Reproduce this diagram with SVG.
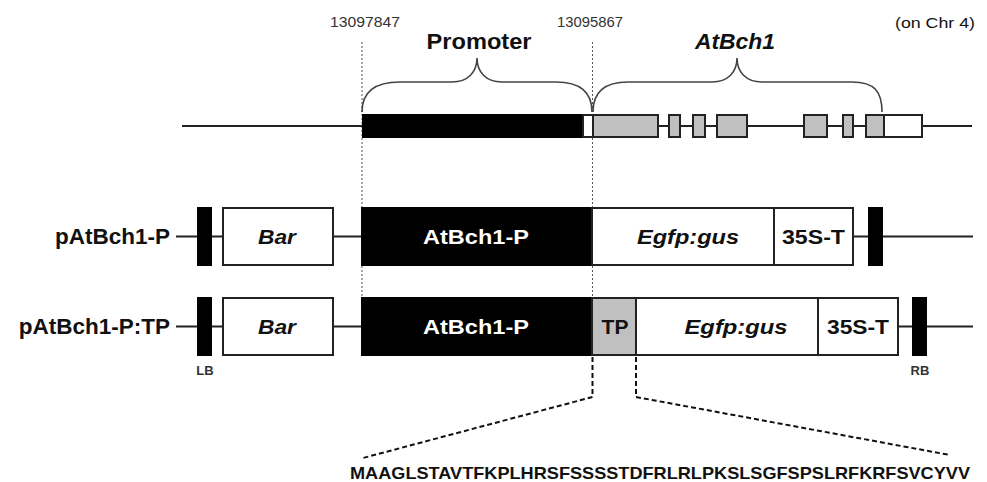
<svg xmlns="http://www.w3.org/2000/svg" width="987" height="482" viewBox="0 0 987 482">
<style>
text{font-family:"Liberation Sans",Arial,sans-serif;fill:#111}
.b{font-weight:bold}
.bi{font-weight:bold;font-style:italic}
.lbl{font-size:21px;text-anchor:middle}
.w{fill:#fff}
.num{font-size:15px;fill:#333;text-anchor:middle}
.small{font-size:13px;font-weight:bold;fill:#333;text-anchor:middle}
.line{stroke:#222;stroke-width:2;fill:none}
.box{fill:#fff;stroke:#222;stroke-width:2}
.gray{fill:#c0c0c0;stroke:#222;stroke-width:2}
.blk{fill:#000}
.guide{stroke:#555;stroke-width:1;stroke-dasharray:2 2;fill:none}
.brace{stroke:#444;stroke-width:1.6;fill:none}
.tpd{stroke:#111;stroke-width:2;stroke-dasharray:5 3;fill:none}
</style>
<rect width="987" height="482" fill="#fff"/>

<g id="guides">
<line class="guide" x1="362" y1="42" x2="362" y2="297"/>
<line class="guide" x1="592.5" y1="42" x2="592.5" y2="297"/>
</g>

<g id="labels-top">
<text class="num" x="365" y="27" textLength="70" lengthAdjust="spacingAndGlyphs">13097847</text>
<text class="num" x="590" y="27" textLength="66" lengthAdjust="spacingAndGlyphs">13095867</text>
<text x="935" y="28" font-size="15" text-anchor="middle" fill="#333" textLength="80" lengthAdjust="spacingAndGlyphs">(on Chr 4)</text>
<text class="b" x="479" y="49" font-size="22" text-anchor="middle" textLength="105" lengthAdjust="spacingAndGlyphs">Promoter</text>
<text class="bi" x="735" y="49" font-size="22" text-anchor="middle" textLength="80" lengthAdjust="spacingAndGlyphs">AtBch1</text>
</g>

<g id="braces">
<path class="brace" d="M362,112 C362,92 374,82 400,82 L452,82 C468,82 477,72 477,58 C477,72 486,82 502,82 L556,82 C580,82 592,92 592,112"/>
<path class="brace" d="M593,112 C593,92 605,82 628,82 L712,82 C728,82 737,72 737,58 C737,72 746,82 762,82 L852,82 C875,82 882,92 882,112"/>
</g>

<g id="gene">
<line class="line" x1="182" y1="126" x2="972" y2="126"/>
<rect class="blk" x="362" y="114" width="221" height="24"/>
<rect class="box" x="583" y="115" width="10" height="22"/>
<rect class="gray" x="593" y="115" width="65" height="22"/>
<rect class="gray" x="669" y="115" width="11" height="22"/>
<rect class="gray" x="693" y="115" width="12" height="22"/>
<rect class="gray" x="717" y="115" width="30" height="22"/>
<rect class="gray" x="804" y="115" width="23" height="22"/>
<rect class="gray" x="843" y="115" width="10" height="22"/>
<rect class="gray" x="866" y="115" width="18" height="22"/>
<rect class="box" x="884" y="115" width="38" height="22"/>
</g>

<g id="construct1">
<text class="b" x="170" y="244" font-size="22.5" text-anchor="end">pAtBch1-P</text>
<line class="line" x1="176" y1="236.5" x2="973" y2="236.5"/>
<rect class="blk" x="197" y="207" width="15" height="59"/>
<rect class="box" x="223" y="208" width="110" height="57"/>
<text class="bi lbl" x="277" y="244" textLength="38" lengthAdjust="spacingAndGlyphs">Bar</text>
<rect class="blk" x="361" y="207" width="231" height="59"/>
<text class="b lbl w" x="476" y="244" textLength="106" lengthAdjust="spacingAndGlyphs">AtBch1-P</text>
<rect class="box" x="592" y="208" width="182" height="57"/>
<text class="bi lbl" x="688" y="244" textLength="102" lengthAdjust="spacingAndGlyphs">Egfp:gus</text>
<rect class="box" x="774" y="208" width="79" height="57"/>
<text class="b lbl" x="813.5" y="244" textLength="63" lengthAdjust="spacingAndGlyphs">35S-T</text>
<rect class="blk" x="868" y="207" width="15" height="59"/>
</g>

<g id="construct2">
<text class="b" x="170" y="334" font-size="22.5" text-anchor="end">pAtBch1-P:TP</text>
<line class="line" x1="176" y1="326.5" x2="973" y2="326.5"/>
<rect class="blk" x="197" y="297" width="15" height="59"/>
<rect class="box" x="223" y="298" width="110" height="57"/>
<text class="bi lbl" x="277" y="334" textLength="38" lengthAdjust="spacingAndGlyphs">Bar</text>
<rect class="blk" x="361" y="297" width="231" height="59"/>
<text class="b lbl w" x="476" y="334" textLength="106" lengthAdjust="spacingAndGlyphs">AtBch1-P</text>
<rect class="gray" x="592" y="298" width="44" height="57"/>
<text class="b lbl" x="615" y="334" font-size="20">TP</text>
<rect class="box" x="636" y="298" width="182" height="57"/>
<text class="bi lbl" x="736" y="334" textLength="103" lengthAdjust="spacingAndGlyphs">Egfp:gus</text>
<rect class="box" x="818" y="298" width="80" height="57"/>
<text class="b lbl" x="858" y="334" textLength="62" lengthAdjust="spacingAndGlyphs">35S-T</text>
<rect class="blk" x="912" y="297" width="15" height="59"/>
<text class="small" x="205" y="375">LB</text>
<text class="small" x="920" y="375">RB</text>
</g>

<g id="connectors">
<polyline class="tpd" points="592.5,357 592.5,397 363,458"/>
<polyline class="tpd" points="636,357 636,397 950,455"/>
</g>

<g id="sequence">
<text class="b" x="350" y="479" font-size="17" textLength="620" lengthAdjust="spacingAndGlyphs">MAAGLSTAVTFKPLHRSFSSSSTDFRLRLPKSLSGFSPSLRFKRFSVCYVV</text>
</g>
</svg>
